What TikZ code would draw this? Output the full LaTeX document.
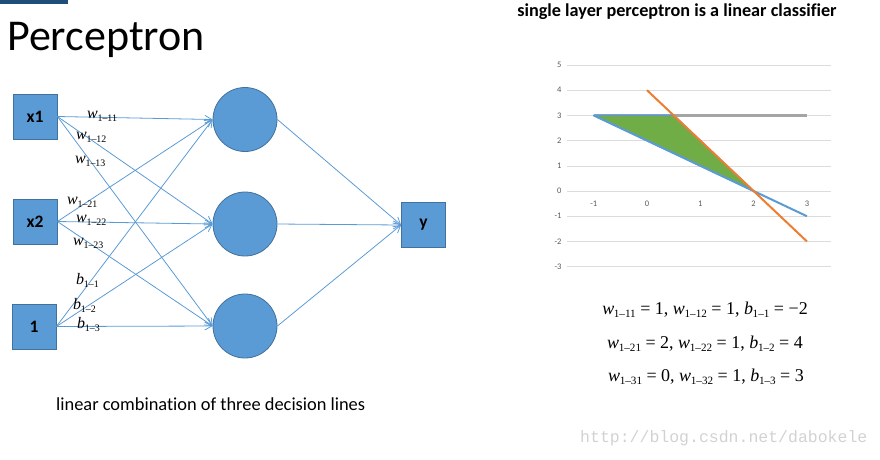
\documentclass[tikz,border=0pt]{standalone}
\usepackage{fontspec}
\setmainfont{Carlito}[Ligatures=NoCommon]
\newfontfamily\timesfont{Liberation Serif}
\newfontfamily\webfont{Liberation Mono}
\usetikzlibrary{arrows.meta}

\definecolor{nodeblue}{HTML}{5B9BD5}
\definecolor{nodeedge}{HTML}{41719C}
\definecolor{lineorange}{HTML}{ED7D31}
\definecolor{linegray}{HTML}{A5A5A5}
\definecolor{fillgreen}{HTML}{70AD47}
\definecolor{barblue}{HTML}{1F4E79}
\definecolor{gridgray}{HTML}{DCDCDC}
\definecolor{ticktext}{HTML}{595959}
\definecolor{marktext}{HTML}{D2D2D2}

% weight with a lowered index, e.g. w_{1-11}
\newcommand{\wsub}[2]{\textit{#1}\kern-0.02em\raisebox{-0.45ex}{\scalebox{0.62}{#2}}}

\tikzset{
  unit/.style={rectangle, fill=nodeblue, draw=nodeedge, line width=0.8pt,
    minimum width=44pt, minimum height=45pt, inner sep=0pt,
    font=\fontsize{17.5}{17.5}\selectfont\bfseries},
  neuron/.style={circle, fill=nodeblue, draw=nodeedge, line width=0.8pt,
    minimum size=64pt, inner sep=0pt},
  wire/.style={nodeblue, line width=0.8pt, ->},
  wlabel/.style={font=\timesfont\fontsize{16}{16}\selectfont, inner sep=0pt, anchor=base west},
  eqline/.style={font=\timesfont\fontsize{18}{18}\selectfont, inner sep=0pt, anchor=base},
  tick/.style={font=\fontsize{8.5}{8.5}\selectfont, text=ticktext, inner sep=0pt},
}

\begin{document}
\begin{tikzpicture}[x=1pt, y=-1pt, >={Straight Barb[length=7pt, width=8pt]}]
    \useasboundingbox (0,0) rectangle (880,459);

    % corner bar and headings
    \fill[barblue] (0,0) rectangle (68,4);
    \node[anchor=base west, inner sep=0pt, font=\fontsize{44}{44}\selectfont] (title) at (7,50) {Perceptron};
    \node[anchor=base, inner sep=0pt, font=\fontsize{18.2}{18.2}\selectfont\bfseries] (subtitle) at (677,16)
        {single layer perceptron is a linear classifier};

    % inputs, hidden units, output
    \node[unit] (x1) at (35,116.5) {x1};
    \node[unit] (x2) at (35,221.5) {x2};
    \node[unit] (one) at (34,326.5) {1};
    \node[neuron] (h1) at (245,119.5) {};
    \node[neuron] (h2) at (245,224) {};
    \node[neuron] (h3) at (245,326) {};
    \node[unit] (y) at (423.5,225) {y};

    % connections
    \foreach \s in {x1,x2,one}
        \foreach \t in {h1,h2,h3}
            \draw[wire] (\s.east) -- (\t.west);
    \foreach \s in {h1,h2,h3}
        \draw[wire] (\s.east) -- (y.west);

    % weight labels
    \node[wlabel] (w11) at (87,118) {\wsub{w}{1–11}};
    \node[wlabel] (w12) at (76,139) {\wsub{w}{1–12}};
    \node[wlabel] (w13) at (75,163) {\wsub{w}{1–13}};
    \node[wlabel] (w21) at (67,204) {\wsub{w}{1–21}};
    \node[wlabel] (w22) at (76,222) {\wsub{w}{1–22}};
    \node[wlabel] (w23) at (73,245) {\wsub{w}{1–23}};
    \node[wlabel] (b1) at (76,284) {\wsub{b}{1–1}};
    \node[wlabel] (b2) at (73,309) {\wsub{b}{1–2}};
    \node[wlabel] (b3) at (77,328) {\wsub{b}{1–3}};

    \node[anchor=base west, inner sep=0pt, font=\fontsize{18.4}{18.4}\selectfont] (caption) at (56,410)
        {linear combination of three decision lines};

    % decision lines chart
    \begin{scope}[shift={(647,191)}, x=53.3pt, y=25.2pt]
        \foreach \v in {-3,...,5} {
            \draw[gridgray, line width=0.6pt] (-1.5,\v) -- (3.45,\v);
            \node[tick, anchor=east] (yt\v) at (-1.6,\v) {\v};
        }
        \foreach \u in {-1,...,3}
            \node[tick] (xt\u) at (\u,-0.52) {\u};
        \draw[linegray, line width=2.5pt] (-1,3) -- (3,3);
        \filldraw[fill=fillgreen, draw=nodeblue, line width=1.5pt, line join=round] (-1,3) -- (0.5,3) -- (2,0) -- cycle;
        \draw[nodeblue, line width=2pt] (-1,3) -- (3,-1);
        \draw[lineorange, line width=2pt] (0,4) -- (3,-2);
    \end{scope}

    % weights of the three lines
    \node[eqline] (eq1) at (705,314) {\wsub{w}{1–11} = 1, \wsub{w}{1–12} = 1, \wsub{b}{1–1} = −2};
    \node[eqline] (eq2) at (705,348) {\wsub{w}{1–21} = 2, \wsub{w}{1–22} = 1, \wsub{b}{1–2} = 4};
    \node[eqline] (eq3) at (706,381) {\wsub{w}{1–31} = 0, \wsub{w}{1–32} = 1, \wsub{b}{1–3} = 3};

    \node[anchor=base west, inner sep=0pt, text=marktext, font=\webfont\fontsize{16.5}{16.5}\selectfont] (mark) at (580,442)
        {http://blog.csdn.net/dabokele};
\end{tikzpicture}
\end{document}
